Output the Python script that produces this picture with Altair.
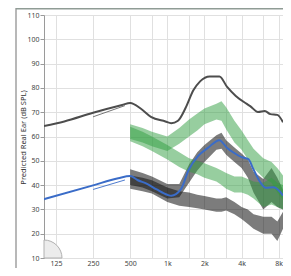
import math
import altair as alt
import pandas as pd

# ---------------- data ----------------
mpo_freq = [100, 146, 250, 430, 500, 615, 736, 965, 1075, 1220, 1408, 1626, 1844, 2208, 2645,
            3054, 3590, 4380, 4700, 5430, 6170, 6860, 7790, 8670]
mpo_db = [64.3, 66.2, 69.8, 73.0, 73.8, 71.3, 68.1, 66.2, 65.5, 66.5, 71.8, 79.0, 82.7, 84.7, 84.7,
          80.4, 76.7, 73.5, 72.5, 70.1, 70.5, 69.2, 68.9, 65.9]

blue_freq = [100, 250, 400, 500, 572, 685, 820, 1000, 1075, 1287, 1486, 1779, 2130, 2645, 3054,
             3460, 4000, 4540, 4960, 5740, 6270, 7300, 8670]
blue_db = [34.2, 39.9, 42.8, 43.7, 42.1, 40.5, 38.2, 36.0, 35.6, 38.2, 46.1, 52.0, 55.3, 58.5, 55.3,
           53.3, 51.5, 50.7, 46.8, 40.8, 38.9, 39.1, 35.7]

thin_freq = [250, 453]
thin_grey_db = [68.1, 72.7]
thin_blue_db = [38.2, 42.1]

band_freq = [500, 630, 750, 1000, 1250, 1500, 1750, 2000, 2500, 2750, 3000, 3500, 4000, 4500,
             5000, 6000, 7000, 7800, 8670]

green_a_top = [65.0, 63.5, 62.0, 60.0, 63.5, 67.0, 69.5, 71.5, 73.5, 74.5, 72.0, 66.5, 62.5, 58.5,
               55.0, 51.0, 49.5, 47.0, 44.0]
green_a_bot = [59.0, 57.5, 56.0, 54.0, 57.0, 60.0, 62.5, 65.0, 67.0, 66.5, 63.0, 57.5, 54.5, 50.5,
               47.0, 43.0, 41.0, 37.0, 34.0]

green_b_top = [64.0, 62.0, 60.0, 56.5, 53.5, 51.0, 50.0, 49.0, 47.0, 46.0, 45.0, 43.5, 43.5, 42.5,
               41.5, 41.0, 43.0, 41.0, 40.0]
green_b_bot = [58.0, 56.0, 54.0, 50.5, 47.5, 45.5, 44.5, 43.0, 41.5, 40.0, 38.5, 37.0, 37.0, 36.0,
               34.5, 31.0, 32.0, 31.0, 30.0]

grey_a_top = [46.5, 45.0, 43.5, 40.5, 40.5, 48.5, 53.5, 56.5, 60.5, 61.5, 58.5, 55.5, 53.0, 50.5,
              45.5, 42.5, 47.0, 43.0, 38.0]
grey_a_bot = [40.0, 39.0, 37.5, 34.5, 35.0, 41.0, 46.0, 49.5, 54.5, 55.0, 52.5, 49.5, 47.0, 43.0,
              37.0, 30.0, 33.0, 31.0, 30.0]

grey_b_top = [44.0, 43.0, 42.0, 39.0, 37.5, 37.0, 36.0, 35.5, 34.5, 34.5, 35.0, 33.0, 31.0, 30.0,
              28.0, 27.0, 27.0, 25.0, 29.0]
grey_b_bot = [38.5, 37.5, 36.5, 33.0, 31.5, 31.0, 30.5, 30.0, 29.0, 29.0, 29.5, 28.0, 26.0, 24.0,
              22.0, 20.0, 20.0, 17.0, 22.0]

x_grid = [125, 250, 500, 750, 1000, 1500, 2000, 3000, 4000, 6000, 8000]
x_label_values = [125, 250, 500, 1000, 2000, 4000, 8000]
x_label_texts = ["125", "250", "500", "1k", "2k", "4k", "8k"]
y_ticks = [10, 20, 30, 40, 50, 60, 70, 80, 90, 100, 110]
y_title = "Predicted Real Ear (dB SPL)"

def band_df(name, top, bot):
    return pd.DataFrame({"freq": band_freq, "top": top, "bottom": bot, "band": name})

green_df = pd.concat([band_df("ga", green_a_top, green_a_bot), band_df("gb", green_b_top, green_b_bot)])
grey_df = pd.concat([band_df("ka", grey_a_top, grey_a_bot), band_df("kb", grey_b_top, grey_b_bot)])
mpo_df = pd.DataFrame({"freq": mpo_freq, "db": mpo_db})
blue_df = pd.DataFrame({"freq": blue_freq, "db": blue_db})
thin_grey_df = pd.DataFrame({"freq": thin_freq, "db": thin_grey_db})
thin_blue_df = pd.DataFrame({"freq": thin_freq, "db": thin_blue_db})
dummy = pd.DataFrame({"a": [0]})

W, H = 239, 243
FONT = "Noto Sans"
label_expr = " : ".join(f"datum.value == {v} ? '{t}'" for v, t in zip(x_label_values, x_label_texts)) + " : ''"

x_scale = alt.Scale(type="log", domain=[100, 8670], nice=False)
y_scale = alt.Scale(domain=[10, 110], nice=False, zero=False)

x_axis = alt.Axis(values=x_grid, labelExpr=label_expr, title=None, grid=True, gridColor="#e0e0e0",
                  ticks=False, domain=False, labelFontSize=7, labelColor="#444", labelFont=FONT,
                  labelPadding=1, labelFlush=False, labelOverlap=False)
y_axis = alt.Axis(values=y_ticks, title=y_title, grid=True, gridColor="#e0e0e0",
                  domainColor="#9a9a9a", tickColor="#9a9a9a", tickSize=4, labelFontSize=7,
                  labelColor="#444", labelFont=FONT, labelPadding=1, titleFont=FONT,
                  titleFontSize=7.5, titleFontWeight="normal", titleColor="#333",
                  titleX=-21, titleY=122, titleAlign="center", titleBaseline="middle", titleAngle=270)

X = alt.X("freq:Q", scale=x_scale, axis=x_axis)
Y = alt.Y("db:Q", scale=y_scale, axis=y_axis)
YT = alt.Y("top:Q", scale=y_scale, axis=y_axis)

arc = alt.Chart(dummy).mark_arc(theta=0, theta2=math.pi / 2, outerRadius=18, fill="#ececec",
                                stroke="#b0b0b0", strokeWidth=1).encode(
    x=alt.value(0), y=alt.value(H))

grey = alt.Chart(grey_df).mark_area(color="#111111", opacity=0.55, clip=True).encode(
    x=X, y=YT, y2="bottom:Q", detail="band:N")
green = alt.Chart(green_df).mark_area(color="#2f9e3f", opacity=0.5, clip=True).encode(
    x=X, y=YT, y2="bottom:Q", detail="band:N")

mpo = alt.Chart(mpo_df).mark_line(color="#4d4d4d", strokeWidth=2, interpolate="monotone", clip=True).encode(x=X, y=Y)
blue = alt.Chart(blue_df).mark_line(color="#3a6cc8", strokeWidth=2, interpolate="monotone", clip=True).encode(x=X, y=Y)
thin_g = alt.Chart(thin_grey_df).mark_line(color="#666", strokeWidth=0.9).encode(x=X, y=Y)
thin_b = alt.Chart(thin_blue_df).mark_line(color="#3a6cc8", strokeWidth=0.9).encode(x=X, y=Y)

frame_left = alt.Chart(dummy).mark_rule(color="#a0a0a0", strokeWidth=1.5).encode(
    x=alt.value(-28), y=alt.value(-7), y2=alt.value(H + 10))
frame_top = alt.Chart(dummy).mark_rule(color="#8f9c95", strokeWidth=1.5).encode(
    x=alt.value(-28), x2=alt.value(W), y=alt.value(-6.3))

chart = alt.layer(arc, grey, green, thin_g, thin_b, mpo, blue, frame_left, frame_top).properties(
    width=W, height=H,
    autosize=alt.AutoSizeParams(type="none"),
    padding={"left": 36, "top": 7, "right": 0, "bottom": 10},
).configure_view(stroke=None).configure(background="white")

chart.save("out.html", embed_options={"renderer": "svg", "actions": False})
